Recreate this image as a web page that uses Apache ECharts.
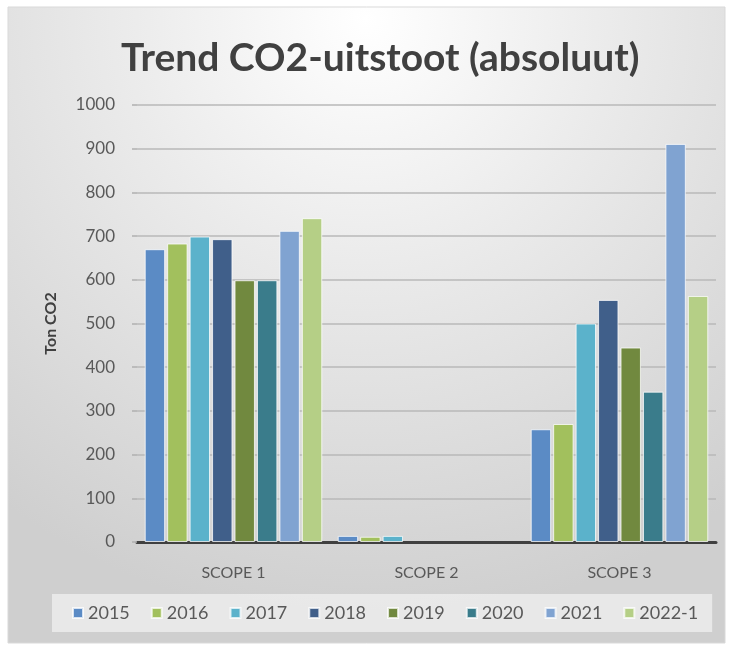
<!DOCTYPE html>
<html><head><meta charset="utf-8">
<script src="https://cdn.jsdelivr.net/npm/echarts@6/dist/echarts.min.js"></script>
<style>html,body{margin:0;padding:0;background:#fff}#c{width:729px;height:645px}</style>
</head><body><div id="c"></div>
<script>
const categories = ['SCOPE 1', 'SCOPE 2', 'SCOPE 3'];
const years = ['2015', '2016', '2017', '2018', '2019', '2020', '2021', '2022-1'];
const v2015 = [670, 14, 258];
const v2016 = [683, 12, 270];
const v2017 = [699, 14, 500];
const v2018 = [693, '-', 554];
const v2019 = [599, '-', 445];
const v2020 = [599, '-', 344];
const v2021 = [712, '-', 911];
const v2022 = [741, '-', 563];
const yTicks = [0, 100, 200, 300, 400, 500, 600, 700, 800, 900, 1000];
const seriesValues = [v2015, v2016, v2017, v2018, v2019, v2020, v2021, v2022];
const colors = ['#5b8bc5', '#a2c05d', '#5bb2cb', '#405f8a', '#71893f', '#3a7c8b', '#80a3d1', '#b5cf86'];

const chart = echarts.init(document.getElementById('c'));
chart.setOption({
  animation: false,
  color: colors,
  graphic: [{
    type: 'rect', z: -10, silent: true,
    shape: {x: 8, y: 7, width: 717, height: 636},
    style: {
      fill: {type: 'radial', x: 0.5, y: 0.02, r: 0.95,
        colorStops: [{offset: 0, color: '#ffffff'}, {offset: 0.4, color: '#ebebeb'}, {offset: 1, color: '#cfcfcf'}]},
      stroke: '#d9d9d9', lineWidth: 1
    }
  }],
  title: {
    text: 'Trend CO2-uitstoot (absoluut)',
    left: 116, top: 34,
    textStyle: {fontFamily: 'Lato', fontWeight: 'bold', fontSize: 39, color: '#404040'}
  },
  grid: {left: 137, right: 13, top: 105, bottom: 103},
  legend: {
    data: years, top: 594, left: 52, width: 630,
    itemWidth: 10, itemHeight: 10, itemGap: 21,
    padding: [10, 14, 10, 20],
    backgroundColor: 'rgba(240,240,240,0.75)',
    icon: 'rect',
    textStyle: {fontFamily: 'Lato', fontSize: 18, color: '#595959'}
  },
  xAxis: {
    type: 'category', data: categories,
    axisLine: {lineStyle: {color: '#404040', width: 3}},
    axisTick: {show: false},
    axisLabel: {fontFamily: 'Lato', fontSize: 16, color: '#595959', margin: 23}
  },
  yAxis: {
    type: 'value', min: yTicks[0], max: yTicks[yTicks.length - 1], interval: 100,
    name: 'Ton CO2', nameLocation: 'middle', nameGap: 78, nameRotate: 90,
    nameTextStyle: {fontFamily: 'Lato', fontWeight: 'bold', fontSize: 16, color: '#404040'},
    axisLine: {show: true, lineStyle: {color: 'rgba(0,0,0,0)'}},
    axisTick: {show: true, length: 5, lineStyle: {color: '#b0b0b0', width: 1.5}},
    axisLabel: {fontFamily: 'Lato', fontSize: 17, color: '#595959', margin: 22,
      formatter: v => String(v)},
    splitLine: {lineStyle: {color: '#b8b8b8', width: 1.5}}
  },
  series: years.map((y, i) => ({
    name: y, type: 'bar', data: seriesValues[i],
    barGap: '10%', barCategoryGap: '8%',
    itemStyle: {color: colors[i], borderColor: 'rgba(255,255,255,0.75)', borderWidth: 1}
  }))
});
</script></body></html>
